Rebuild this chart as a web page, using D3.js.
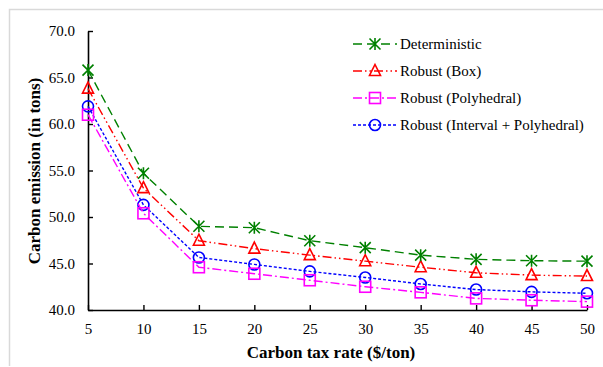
<!DOCTYPE html>
<html>
<head>
<meta charset="utf-8">
<script src="https://cdn.jsdelivr.net/npm/d3@7"></script>
<style>
  body { margin: 0; background: #fff; }
  text { font-family: "Liberation Serif", "Times New Roman", serif; }
</style>
</head>
<body>
<svg id="viz"></svg>
<script>
const width = 603, height = 367;

// data
const taxRates = [5, 10, 15, 20, 25, 30, 35, 40, 45, 50];
const deterministic = [65.8, 54.7, 49.0, 48.85, 47.45, 46.7, 45.9, 45.45, 45.3, 45.25];
const robustBox = [63.8, 53.1, 47.45, 46.6, 45.9, 45.25, 44.6, 44.0, 43.75, 43.65];
const robustPoly = [61.0, 50.4, 44.6, 43.9, 43.2, 42.5, 41.9, 41.25, 41.05, 40.9];
const robustIntPoly = [61.9, 51.3, 45.65, 44.9, 44.15, 43.5, 42.8, 42.2, 41.95, 41.8];
const yTicks = [40, 45, 50, 55, 60, 65, 70];

const seriesList = [
  {name: "Deterministic", values: deterministic, color: "#008000", dash: "9,5", marker: "star"},
  {name: "Robust (Box)", values: robustBox, color: "#ff0000", dash: "9,3,1.5,3,1.5,3", marker: "tri"},
  {name: "Robust (Polyhedral)", values: robustPoly, color: "#ff00ff", dash: "9,3,2,3", marker: "square"},
  {name: "Robust (Interval + Polyhedral)", values: robustIntPoly, color: "#0000ff", dash: "3,2", marker: "circle"}
];

const svg = d3.select("#viz").attr("width", width).attr("height", height);

// light outer frame
svg.append("path")
  .attr("d", "M9.5,366 V9.5 H603")
  .attr("fill", "none")
  .attr("stroke", "#d9d9d9")
  .attr("stroke-width", 1.5);

const x = d3.scaleLinear().domain([5, 50]).range([88, 587]);
const y = d3.scaleLinear().domain([40, 70]).range([310, 31]);

// axes, ticks inward
const xAxis = svg.append("g")
  .attr("transform", "translate(0,310)")
  .call(d3.axisBottom(x).tickValues(taxRates).tickSize(-5).tickPadding(13).tickSizeOuter(0));
const yAxis = svg.append("g")
  .attr("transform", "translate(88,0)")
  .call(d3.axisLeft(y).tickValues(yTicks).tickFormat(d3.format(".1f")).tickSize(-5).tickPadding(13).tickSizeOuter(0));

[xAxis, yAxis].forEach(function(g) {
  g.attr("font-family", null).attr("font-size", null);
  g.select(".domain").attr("stroke", "#000").attr("stroke-width", 1.6);
  g.selectAll(".tick line").attr("stroke", "#000").attr("stroke-width", 1.4);
  g.selectAll(".tick text")
    .attr("fill", "#000")
    .style("font-family", "'Liberation Serif', serif")
    .style("font-size", "15px");
});

svg.append("text")
  .attr("x", 331).attr("y", 358)
  .attr("text-anchor", "middle")
  .attr("font-weight", "bold")
  .style("font-size", "17px")
  .text("Carbon tax rate ($/ton)");

svg.append("text")
  .attr("transform", "translate(40,171) rotate(-90)")
  .attr("text-anchor", "middle")
  .attr("font-weight", "bold")
  .style("font-size", "17px")
  .text("Carbon emission (in tons)");

function drawMarker(g, type, color, cx, cy) {
  if (type === "star") {
    const s = 5.5;
    g.append("path")
      .attr("d", `M${cx - s},${cy - s}L${cx + s},${cy + s}M${cx - s},${cy + s}L${cx + s},${cy - s}M${cx},${cy - s - 0.5}L${cx},${cy + s + 0.5}`)
      .attr("stroke", color).attr("stroke-width", 1.6).attr("fill", "none");
  } else if (type === "tri") {
    const s = 5.5;
    g.append("path")
      .attr("d", `M${cx},${cy - s - 1}L${cx + s},${cy + s - 1}L${cx - s},${cy + s - 1}Z`)
      .attr("stroke", color).attr("stroke-width", 1.6).attr("fill", "none");
  } else if (type === "square") {
    g.append("rect")
      .attr("x", cx - 5.5).attr("y", cy - 5.5).attr("width", 11).attr("height", 11)
      .attr("stroke", color).attr("stroke-width", 1.6).attr("fill", "none");
  } else {
    g.append("circle")
      .attr("cx", cx).attr("cy", cy).attr("r", 5.5)
      .attr("stroke", color).attr("stroke-width", 1.6).attr("fill", "none");
  }
}

const line = d3.line()
  .x(function(d, i) { return x(taxRates[i]); })
  .y(function(d) { return y(d); });

// draw in reverse so deterministic sits on top
seriesList.slice().reverse().forEach(function(s) {
  const g = svg.append("g");
  g.append("path")
    .attr("d", line(s.values))
    .attr("fill", "none")
    .attr("stroke", s.color)
    .attr("stroke-width", 1.4)
    .attr("stroke-dasharray", s.dash);
  s.values.forEach(function(v, i) {
    drawMarker(g, s.marker, s.color, x(taxRates[i]), y(v));
  });
});

// legend
const legendY = [44, 71, 98, 125];
seriesList.forEach(function(s, i) {
  const g = svg.append("g");
  const ly = legendY[i];
  g.append("line")
    .attr("x1", 353).attr("x2", 397).attr("y1", ly).attr("y2", ly)
    .attr("stroke", s.color).attr("stroke-width", 1.4)
    .attr("stroke-dasharray", s.dash);
  drawMarker(g, s.marker, s.color, 375, ly);
  g.append("text")
    .attr("x", 400).attr("y", ly + 5)
    .style("font-size", "15px")
    .attr("fill", "#000")
    .text(s.name);
});
</script>
</body>
</html>
